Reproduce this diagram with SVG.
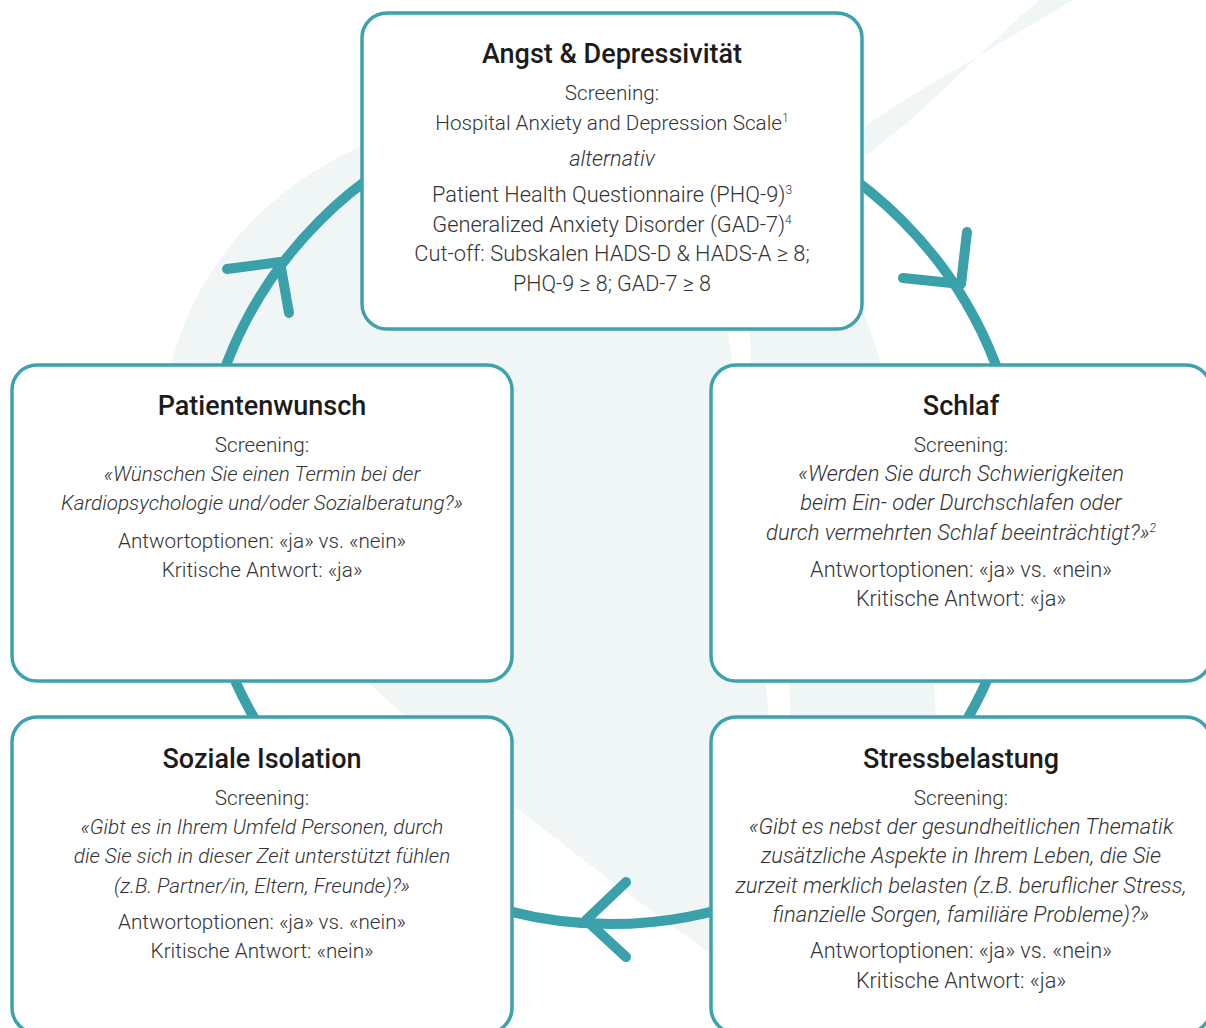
<svg xmlns="http://www.w3.org/2000/svg" width="1206" height="1028" viewBox="0 0 1206 1028">
  <style>
    .bg { fill: #f0f6f6; }
    .box { fill: #ffffff; stroke: #3ea2ac; stroke-width: 3.5; }
    .ring { fill: none; stroke: #3aa0aa; stroke-width: 10; }
    .head { fill: none; stroke: #3aa0aa; stroke-width: 10; stroke-linecap: round; stroke-linejoin: round; }
    text { font-family: Roboto, "Liberation Sans", sans-serif; text-anchor: middle; }
    .title { font-size: 27px; font-weight: 500; fill: #1c1c1c; }
    .body { font-size: 20.7px; font-weight: 300; fill: #333333; }
    .lg { font-size: 21.8px; }
    .it { font-style: italic; }
    .sup { font-size: 12px; }
  </style>

  <!-- light background swoosh -->
  <g id="background">
    <path class="bg" d="M160,460 C158,300 250,190 380,138 C520,85 690,150 722,300 C745,420 760,600 775,800 L790,1010 C640,905 460,770 367,681 C250,580 165,520 160,460 Z"/>
    <path class="bg" d="M1040,0 L1073,0 C990,50 900,100 863,128 C830,150 840,260 862,310 C900,400 930,560 935,700 L945,1028 L800,1028 L790,700 C780,550 750,420 750,329 C752,250 800,200 863,157 C930,110 990,40 1040,0 Z"/>
  </g>

  <!-- cycle ring with arrowheads -->
  <g id="connectors">
    <circle class="ring" cx="611" cy="512" r="412"/>
    <path class="head" d="M227,269 L280,262 L289,313"/>
    <path class="head" d="M903,278 L961,284 L967,232"/>
    <path class="head" d="M626,882 L586,920 L626,957"/>
  </g>

  <g id="angst">
    <rect class="box" x="362" y="13" width="500" height="316" rx="25"/>
    <text class="title" x="612" y="63">Angst &amp; Depressivität</text>
    <text class="body" x="612" y="100">Screening:</text>
    <text class="body" x="612" y="130">Hospital Anxiety and Depression Scale<tspan class="sup" dy="-8">1</tspan></text>
    <text class="body lg it" x="612" y="166">alternativ</text>
    <text class="body lg" x="612" y="202">Patient Health Questionnaire (PHQ-9)<tspan class="sup" dy="-8">3</tspan></text>
    <text class="body lg" x="612" y="232">Generalized Anxiety Disorder (GAD-7)<tspan class="sup" dy="-8">4</tspan></text>
    <text class="body lg" x="612" y="261">Cut-off: Subskalen HADS-D &amp; HADS-A ≥ 8;</text>
    <text class="body" x="612" y="291" style="font-size:21.5px">PHQ-9 ≥ 8; GAD-7 ≥ 8</text>
  </g>

  <g id="patientenwunsch">
    <rect class="box" x="12" y="365" width="500" height="316" rx="25"/>
    <text class="title" x="262" y="415">Patientenwunsch</text>
    <text class="body" x="262" y="452">Screening:</text>
    <text class="body it" x="262" y="481">«Wünschen Sie einen Termin bei der</text>
    <text class="body it" x="262" y="510">Kardiopsychologie und/oder Sozialberatung?»</text>
    <text class="body" x="262" y="548">Antwortoptionen: «ja» vs. «nein»</text>
    <text class="body" x="262" y="577">Kritische Antwort: «ja»</text>
  </g>

  <g id="schlaf">
    <rect class="box" x="711" y="365" width="500" height="316" rx="25"/>
    <text class="title" x="961" y="415">Schlaf</text>
    <text class="body" x="961" y="452">Screening:</text>
    <text class="body lg it" x="961" y="481" style="font-size:22px">«Werden Sie durch Schwierigkeiten</text>
    <text class="body lg it" x="961" y="510" style="font-size:22px">beim Ein- oder Durchschlafen oder</text>
    <text class="body lg it" x="961" y="540" style="font-size:22px">durch vermehrten Schlaf beeinträchtigt?»<tspan class="sup" dy="-8">2</tspan></text>
    <text class="body lg" x="961" y="577" style="font-size:21.7px">Antwortoptionen: «ja» vs. «nein»</text>
    <text class="body lg" x="961" y="606" style="font-size:21.7px">Kritische Antwort: «ja»</text>
  </g>

  <g id="soziale-isolation">
    <rect class="box" x="12" y="717" width="500" height="316" rx="25"/>
    <text class="title" x="262" y="768">Soziale Isolation</text>
    <text class="body" x="262" y="805">Screening:</text>
    <text class="body it" x="262" y="834">«Gibt es in Ihrem Umfeld Personen, durch</text>
    <text class="body it" x="262" y="863">die Sie sich in dieser Zeit unterstützt fühlen</text>
    <text class="body it" x="262" y="893">(z.B. Partner/in, Eltern, Freunde)?»</text>
    <text class="body" x="262" y="929">Antwortoptionen: «ja» vs. «nein»</text>
    <text class="body" x="262" y="958">Kritische Antwort: «nein»</text>
  </g>

  <g id="stressbelastung">
    <rect class="box" x="711" y="717" width="500" height="316" rx="25"/>
    <text class="title" x="961" y="768">Stressbelastung</text>
    <text class="body" x="961" y="805">Screening:</text>
    <text class="body lg it" x="961" y="834" style="font-size:22px">«Gibt es nebst der gesundheitlichen Thematik</text>
    <text class="body lg it" x="961" y="863" style="font-size:22px">zusätzliche Aspekte in Ihrem Leben, die Sie</text>
    <text class="body lg it" x="961" y="893" style="font-size:22px">zurzeit merklich belasten (z.B. beruflicher Stress,</text>
    <text class="body lg it" x="961" y="922" style="font-size:22px">finanzielle Sorgen, familiäre Probleme)?»</text>
    <text class="body lg" x="961" y="958" style="font-size:21.7px">Antwortoptionen: «ja» vs. «nein»</text>
    <text class="body lg" x="961" y="988" style="font-size:21.7px">Kritische Antwort: «ja»</text>
  </g>
</svg>
